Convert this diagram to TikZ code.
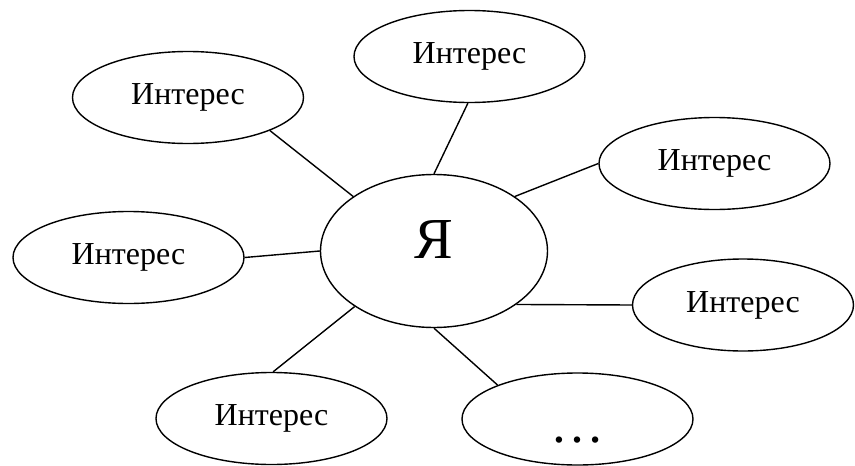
\documentclass[tikz,border=0pt]{standalone}
\usepackage{fontspec}
\setmainfont{Liberation Serif}
\usetikzlibrary{shapes.geometric}
\newcommand{\intname}{Интерес}

\begin{document}
\begin{tikzpicture}[x=1pt, y=-1pt, line width=1.4pt,
	every node/.style={ellipse, draw, inner sep=0pt},
	interest/.style={minimum width=231pt, minimum height=92pt,
		font=\fontsize{32}{38}\selectfont},
	self/.style={minimum width=227pt, minimum height=153pt,
		font=\fontsize{58}{64}\selectfont, text depth=22pt}]
\useasboundingbox (0,0) rectangle (855,466);
\node[self] (self) at (434,251) {Я};
\node[interest] (topleft) at (188,97.5) {\intname};
\node[interest] (top) at (469.5,56.5) {\intname};
\node[interest] (topright) at (714.5,163.5) {\intname};
\node[interest] (left) at (128.5,257.5) {\intname};
\node[interest, minimum width=221pt] (right) at (743,305) {\intname};
\node[interest] (botleft) at (271.5,418.5) {\intname};
\node[interest, font=\fontsize{54}{60}\selectfont, text height=47pt, text depth=0pt]
	(more) at (577.5,419) {…};
	% spokes
\draw (self.146) -- (topleft.-22);
\draw (self.90) -- (top.268);
\draw (self.34) -- (topright.180);
\draw (self.180) -- (left.0);
\draw (self.-33) -- (right.180);
\draw (self.215) -- (botleft.88);
\draw (self.270) -- (more.157);
\end{tikzpicture}
\end{document}
